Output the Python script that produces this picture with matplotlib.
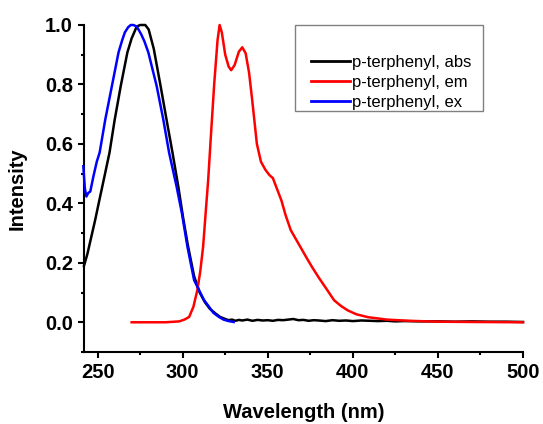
import matplotlib
matplotlib.use("Agg")
import matplotlib.pyplot as plt
from matplotlib.ticker import MultipleLocator
from matplotlib.lines import Line2D
from matplotlib.patches import Rectangle

plt.rcParams['font.family'] = ['Liberation Sans', 'DejaVu Sans']

# absorption (black)
abs_x = [242, 244, 246, 248.6, 251, 254, 257, 260, 263.6, 267.5, 270, 273, 275, 278,
         280, 283, 287, 290.5, 294, 297.4, 300.3, 303, 306.7, 310, 313, 316, 319.4,
         322, 325, 327, 329, 331, 333, 335, 338, 341, 344, 347, 350, 353, 356, 359,
         362, 365, 368, 371, 374, 377, 380, 384, 388, 392, 396, 400, 405, 410, 415,
         420, 425, 430, 440, 450, 460, 470, 480, 490, 500]
abs_y = [0.19, 0.23, 0.28, 0.345, 0.41, 0.49, 0.571, 0.68, 0.795, 0.908, 0.955, 0.995,
         1.0, 1.0, 0.985, 0.92, 0.795, 0.682, 0.571, 0.457, 0.35, 0.26, 0.155, 0.10,
         0.068, 0.045, 0.029, 0.018, 0.011, 0.007, 0.009, 0.005, 0.008, 0.006, 0.009,
         0.005, 0.008, 0.006, 0.007, 0.005, 0.008, 0.007, 0.009, 0.011, 0.007, 0.008,
         0.005, 0.007, 0.006, 0.004, 0.007, 0.005, 0.006, 0.004, 0.006, 0.005, 0.004,
         0.005, 0.003, 0.004, 0.003, 0.003, 0.002, 0.003, 0.002, 0.002, 0.001]

# emission (red)
em_x = [270, 280, 290, 298, 301, 303.8, 306.3, 308.6, 310.3, 312, 313.5, 315, 316.5,
        318.5, 320.5, 321.7, 323, 325, 327, 328.5, 330.5, 333, 335, 337, 339, 340.8,
        343.6, 346, 348.6, 351, 353, 355, 358, 360.5, 363.5, 367, 370, 373, 376, 380,
        385, 389, 393, 397, 402, 409, 420, 433, 450, 470, 500]
em_y = [0.0, 0.0, 0.0, 0.003, 0.009, 0.018, 0.052, 0.108, 0.17, 0.254, 0.368, 0.48,
        0.62, 0.80, 0.95, 1.0, 0.975, 0.9, 0.86, 0.848, 0.865, 0.91, 0.925, 0.905,
        0.84, 0.75, 0.6, 0.54, 0.513, 0.495, 0.485, 0.455, 0.41, 0.36, 0.31, 0.275,
        0.245, 0.215, 0.186, 0.15, 0.108, 0.074, 0.055, 0.04, 0.027, 0.017, 0.009,
        0.005, 0.002, 0.001, 0.0]

# excitation (blue)
ex_x = [241.6, 242.5, 243.4, 244.5, 245.7, 247.5, 249.5, 251.2, 254.5, 258.4, 262.3,
        264.5, 266, 268, 269.5, 271, 273, 275.5, 277.5, 279.8, 284.7, 288.6, 292,
        296.4, 299.5, 302.8, 306.7, 309.6, 312.5, 315.5, 318, 321.3, 324, 327, 330]
ex_y = [0.525, 0.45, 0.423, 0.435, 0.44, 0.49, 0.54, 0.571, 0.682, 0.795, 0.908,
        0.95, 0.975, 0.993, 1.0, 1.0, 0.995, 0.97, 0.945, 0.908, 0.795, 0.682, 0.571,
        0.457, 0.368, 0.254, 0.142, 0.108, 0.075, 0.052, 0.032, 0.018, 0.009, 0.004,
        0.001]

labels = ['p-terphenyl, abs', 'p-terphenyl, em', 'p-terphenyl, ex']
colors = ['black', 'red', 'blue']

W, H = 543, 424
fig = plt.figure(figsize=(W/100, H/100), dpi=100)
ax = fig.add_axes([84/W, 1-352/H, (523-84)/W, (352-25)/H])

series = [(abs_x, abs_y), (em_x, em_y), (ex_x, ex_y)]
for (xs, ys), c, lab in zip(series, colors, labels):
    ax.plot(xs, ys, color=c, lw=1.8, label=lab, clip_on=False, zorder=3)

ax.set_xlim(242, 500)
ax.set_ylim(-0.1, 1.0)
ax.xaxis.set_major_locator(MultipleLocator(50))
ax.xaxis.set_minor_locator(MultipleLocator(25))
ax.set_yticks([0.0, 0.2, 0.4, 0.6, 0.8, 1.0])
ax.set_yticklabels(['0.0', '0.2', '0.4', '0.6', '0.8', '1.0'])
ax.yaxis.set_minor_locator(MultipleLocator(0.1))

for s in ['top', 'right']:
    ax.spines[s].set_visible(False)
for s in ['left', 'bottom']:
    ax.spines[s].set_linewidth(1.5)

ax.tick_params(which='major', direction='out', length=4, width=1.5, pad=4,
               labelsize=14.5)
ax.tick_params(which='minor', direction='out', length=2.5, width=1.5)
for lbl in ax.get_xticklabels() + ax.get_yticklabels():
    lbl.set_fontweight('bold')

ax.set_xlabel('Wavelength (nm)', fontsize=14.5, fontweight='bold', labelpad=15)
ax.set_ylabel('Intensity', fontsize=14.5, fontweight='bold', labelpad=13)

# legend box (Origin style, with blank top row)
fig.patches.append(Rectangle((295/W, 1-111/H), (483-295)/W, (111-25)/H,
                             transform=fig.transFigure, fill=False,
                             edgecolor='#808080', lw=1.0, zorder=5))
handles = [Line2D([], [], color=c, lw=2) for c in colors]
leg = ax.legend(handles, labels, loc='upper left',
                bbox_to_anchor=(311/W, 1-55/H), bbox_transform=fig.transFigure,
                fontsize=12, frameon=False, handlelength=2.35,
                handletextpad=0.1, labelspacing=0.3, borderaxespad=0,
                borderpad=0)

fig.savefig('out.png', dpi=100)
